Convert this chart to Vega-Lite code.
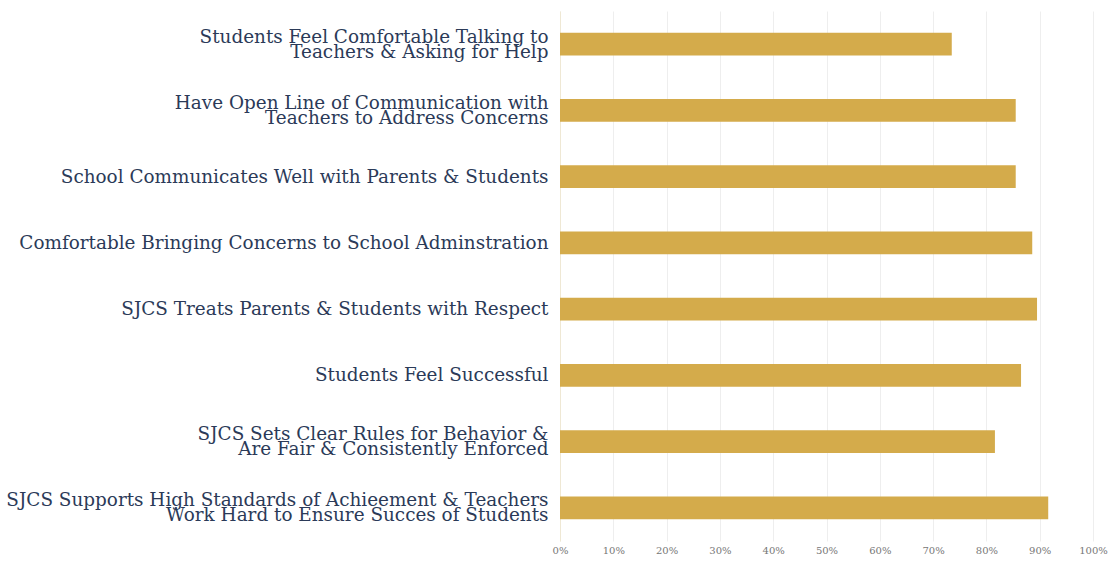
{
  "$schema": "https://vega.github.io/schema/vega-lite/v6.json",
  "autosize": "none",
  "width": 533,
  "height": 530,
  "padding": {"left": 560, "top": 11, "right": 23, "bottom": 21},
  "background": "white",
  "data": {
    "values": [
      {"label": "Students Feel Comfortable Talking to|Teachers & Asking for Help", "value": 0.735},
      {"label": "Have Open Line of Communication with|Teachers to Address Concerns", "value": 0.855},
      {"label": "School Communicates Well with Parents & Students", "value": 0.855},
      {"label": "Comfortable Bringing Concerns to School Adminstration", "value": 0.886},
      {"label": "SJCS Treats Parents & Students with Respect", "value": 0.895},
      {"label": "Students Feel Successful", "value": 0.865},
      {"label": "SJCS Sets Clear Rules for Behavior &|Are Fair & Consistently Enforced", "value": 0.816},
      {"label": "SJCS Supports High Standards of Achieement & Teachers|Work Hard to Ensure Succes of Students", "value": 0.916}
    ]
  },
  "mark": {"type": "bar", "color": "#D4AB4B"},
  "encoding": {
    "y": {
      "field": "label",
      "type": "nominal",
      "sort": null,
      "title": null,
      "scale": {"paddingInner": 0.66, "paddingOuter": 0.33},
      "axis": {
        "labelExpr": "split(datum.label, '|')",
        "labelFont": "DejaVu Serif",
        "labelFontSize": 18.4,
        "labelLineHeight": 15,
        "labelColor": "#2B3A58",
        "labelLimit": 600,
        "labelPadding": 12,
        "labelOffset": {"condition": {"test": "indexof(datum.value, '|') >= 0", "value": -7.5}, "value": 0},
        "ticks": false,
        "domain": true,
        "domainColor": "#EFE8D4",
        "grid": false
      }
    },
    "x": {
      "field": "value",
      "type": "quantitative",
      "title": null,
      "scale": {"domain": [0, 1], "nice": false},
      "axis": {
        "format": ".0%",
        "values": [0, 0.1, 0.2, 0.3, 0.4, 0.5, 0.6, 0.7, 0.8, 0.9, 1],
        "labelFont": "DejaVu Serif",
        "labelFontSize": 10,
        "labelColor": "#777777",
        "labelPadding": 4,
        "ticks": false,
        "domain": false,
        "grid": true,
        "gridColor": "#EEEEEE",
        "labelFlush": false
      }
    }
  },
  "config": {"view": {"stroke": null}}
}
